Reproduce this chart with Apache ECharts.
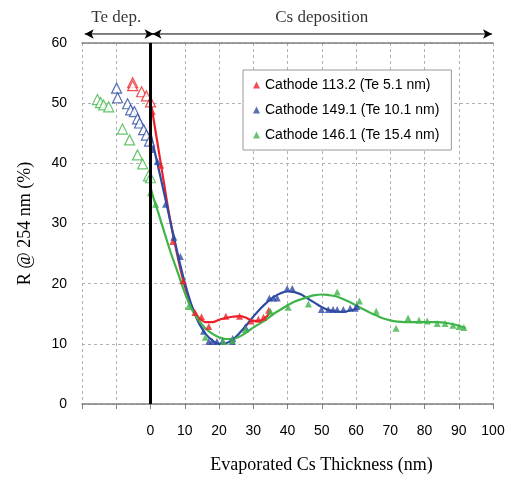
<!DOCTYPE html>
<html><head><meta charset="utf-8">
<script src="https://cdn.jsdelivr.net/npm/echarts@6/dist/echarts.min.js"></script>
<style>html,body{margin:0;padding:0;background:#fff}#c{width:508px;height:479px}</style>
</head><body><div id="c"></div>
<script>
// ---- data ----
const xTickValues = [-20,-10,0,10,20,30,40,50,60,70,80,90,100];
const xTickLabels = ['','','0','10','20','30','40','50','60','70','80','90','100'];
const yTickLabels = ['0','10','20','30','40','50','60'];
const seriesNames = ['Cathode 113.2 (Te 5.1 nm)','Cathode 149.1 (Te 10.1 nm)','Cathode 146.1 (Te 15.4 nm)'];

// Te deposition (open triangles)
const redTe   = [[-5.2,53.4],[-5.2,52.9],[-2.6,51.9],[-1.2,51.2],[0,50.2]];
const blueTe  = [[-9.9,52.5],[-9.6,50.9],[-6.7,49.9],[-5.8,48.9],[-4.7,48.6],[-3.8,47.4],[-3.2,46.7],[-2.0,45.6],[-1.2,44.7],[-0.3,43.7]];
const greenTe = [[-15.5,50.6],[-14.6,50.1],[-13.7,49.7],[-12.2,49.4],[-8.2,45.7],[-6.1,43.9],[-3.8,41.4],[-2.3,39.9],[-0.6,37.9],[0,37.6]];

// Cs deposition (solid triangles)
const redCs   = [[0.5,48.6],[3,39.7],[6.5,27],[9.5,20.5],[13,15.2],[14.9,14.5],[17,12.9],[22,14.6],[26,14.6],[29.4,13.8],[31.5,14.1],[33,14.4],[34.5,15.6]];
const blueCs  = [[0,43.6],[0.5,42.3],[2,40.3],[4.4,33.2],[6.8,27.7],[8.7,24.5],[15.5,12.1],[17,10.4],[18,10.4],[19.4,10.4],[21,10.4],[23.9,10.4],[24,10.9],[27.7,12.8],[34.7,17.6],[35.9,17.6],[37,17.6],[39.9,19.2],[41.4,19.2],[49.9,15.7],[51.9,15.7],[53.3,15.7],[54.5,15.7],[56.3,15.7],[58.3,15.9],[59.8,15.9],[60.3,16.2]];
const greenCs = [[0,35.1],[1.5,33.2],[11.1,16.2],[16,11.1],[21.3,10.4],[23.9,10.6],[27.7,12.4],[35,15.4],[40.2,16.1],[46.1,16.6],[54.5,18.6],[61,17.1],[65.9,15.4],[71.7,12.6],[75.2,14.3],[78.4,13.9],[80.8,13.8],[83.7,13.4],[86,13.4],[88.3,13.1],[90.1,12.9],[91.5,12.7]];

// smooth guide curves
const redFit   = [[0,50.5],[1,47],[2,43.5],[3,40],[4,36.5],[5,33],[6,29.8],[7,27],[8,24.3],[9,21.8],[10,19.6],[11,17.8],[12,16.3],[13,15.2],[14,14.4],[15,13.9],[16,13.6],[18,13.6],[20,14],[22,14.3],[24,14.5],[26,14.6],[28,14.3],[30,13.8],[32,13.8],[34,14.6],[35,15.5]];
const blueFit  = [[0,45],[1,42.5],[2,40],[3,37.5],[4,35],[5,32.4],[6,29.8],[7,27.3],[8,24.8],[9,22.4],[10,20.2],[11,18.2],[12,16.4],[13,14.9],[14,13.6],[15,12.6],[16,11.7],[18,10.6],[20,10],[22,10.1],[24,10.7],[26,11.8],[28,13.1],[30,14.5],[32,15.8],[34,16.9],[36,17.8],[38,18.4],[40,18.7],[42,18.6],[44,18.2],[46,17.5],[48,16.8],[50,16.1],[52,15.6],[54,15.4],[56,15.3],[58,15.5],[60,15.8]];
const greenFit = [[0,36],[1,34],[2,32.3],[4,28.6],[6,25],[8,21.8],[10,18.5],[12,15.8],[14,14],[16,12.6],[18,11.7],[20,11.1],[22,10.8],[24,10.8],[26,11.2],[28,11.9],[30,12.7],[32,13.4],[34,14.1],[36,15],[38,15.7],[40,16.4],[42,17],[44,17.4],[46,17.8],[48,18.1],[50,18.2],[52,18.1],[54,17.9],[56,17.5],[58,17],[60,16.4],[62,15.8],[64,15.2],[66,14.7],[68,14.2],[70,13.9],[72,13.7],[74,13.6],[76,13.6],[78,13.6],[80,13.6],[82,13.6],[84,13.6],[86,13.5],[88,13.3],[90,13],[92,12.6]];

// phase annotations
const phaseLabels = [{name:'Te dep.', x:-10, y:64.2},{name:'Cs deposition', x:50, y:64.2}];
const phaseArrows = [[-19.2,0.9],[0.6,99.7]];
const arrowY = 61.5;

const RED='#ec2027', BLUE='#2e4aa3', GREEN='#3fb549';
const colors=[RED,BLUE,GREEN];
const teData=[redTe,blueTe,greenTe], csData=[redCs,blueCs,greenCs], fitData=[redFit,blueFit,greenFit];

const chart = echarts.init(document.getElementById('c'), null, {renderer:'canvas'});
const series=[];
for(let i=0;i<3;i++){
  series.push({name:'fit'+i,type:'line',smooth:0.4,data:fitData[i],symbol:'none',lineStyle:{color:colors[i],width:2.2},z:3});
  series.push({name:seriesNames[i],type:'scatter',data:csData[i],symbol:'triangle',symbolSize:7,itemStyle:{color:colors[i]},z:4});
  series.push({name:'te'+i,type:'scatter',data:teData[i],symbol:'triangle',symbolSize:10,itemStyle:{color:'#fff',borderColor:colors[i],borderWidth:1.2},z:4});
}
// x=0 divider
series.push({name:'divider',type:'line',data:[],markLine:{silent:true,symbol:'none',label:{show:false},lineStyle:{color:'#000',width:3,type:'solid'},data:[{xAxis:0}]},z:2});
// arrows
phaseArrows.forEach((a,k)=>{
  series.push({name:'arrow'+k,type:'line',clip:false,silent:true,
    data:[{value:[a[0],arrowY],symbolRotate:90},{value:[a[1],arrowY],symbolRotate:-90}],
    symbol:'arrow',symbolSize:[7,9],symbolKeepAspect:false,showSymbol:true,
    itemStyle:{color:'#000'},lineStyle:{color:'#000',width:1}});
});
series.push({name:'phases',type:'scatter',clip:false,silent:true,symbolSize:0,
  data:phaseLabels.map(p=>({value:[p.x,p.y],name:p.name})),
  label:{show:true,position:'inside',formatter:p=>p.name,color:'#000',fontFamily:'Liberation Serif',fontSize:17}});

chart.setOption({
  animation:false,
  backgroundColor:'#fff',
  grid:{left:82,right:15,top:43,bottom:74,show:false},
  legend:{
    data:seriesNames,orient:'vertical',left:243,top:70,
    backgroundColor:'#fff',borderColor:'#999',borderWidth:1,
    padding:[7,12,7,10],itemGap:9,icon:'triangle',itemWidth:7,itemHeight:7,
    textStyle:{fontFamily:'Liberation Sans',fontSize:14,color:'#000',lineHeight:16}
  },
  xAxis:{
    type:'value',min:-20,max:100,interval:10,
    name:'Evaporated Cs Thickness (nm)',nameLocation:'middle',nameGap:52,
    nameTextStyle:{fontFamily:'Liberation Serif',fontSize:18,color:'#000',padding:[0,0,0,68]},
    axisLine:{show:true,lineStyle:{color:'#808080',width:1.5}},
    axisTick:{show:true,length:5,lineStyle:{color:'#808080'}},
    axisLabel:{margin:20,fontFamily:'Liberation Sans',fontSize:14,color:'#000',
      formatter:v=>{const i=xTickValues.indexOf(v);return i>=0?xTickLabels[i]:'';}},
    splitLine:{show:true,lineStyle:{color:'#b0b0b0',type:[3,3]}}
  },
  yAxis:{
    type:'value',min:0,max:60,interval:10,
    name:'R @ 254 nm (%)',nameLocation:'middle',nameGap:48,
    nameTextStyle:{fontFamily:'Liberation Serif',fontSize:18,color:'#000'},
    axisLine:{show:true,lineStyle:{color:'#808080',width:1.5}},
    axisTick:{show:false},
    axisLabel:{margin:15,fontFamily:'Liberation Sans',fontSize:14,color:'#000',
      formatter:v=>yTickLabels[Math.round(v/10)]},
    splitLine:{show:true,lineStyle:{color:'#b0b0b0',type:[3,3]}}
  },
  series:series
});
// frame top/right via secondary axes
chart.setOption({
  xAxis:[chart.getOption().xAxis[0],{type:'value',min:-20,max:100,position:'top',axisLine:{show:true,onZero:false,lineStyle:{color:'#808080',width:1.5}},axisTick:{show:false},axisLabel:{show:false},splitLine:{show:false}}],
  yAxis:[chart.getOption().yAxis[0],{type:'value',min:0,max:60,position:'right',axisLine:{show:true,lineStyle:{color:'#808080',width:1.5}},axisTick:{show:false},axisLabel:{show:false},splitLine:{show:false}}]
});
</script></body></html>
